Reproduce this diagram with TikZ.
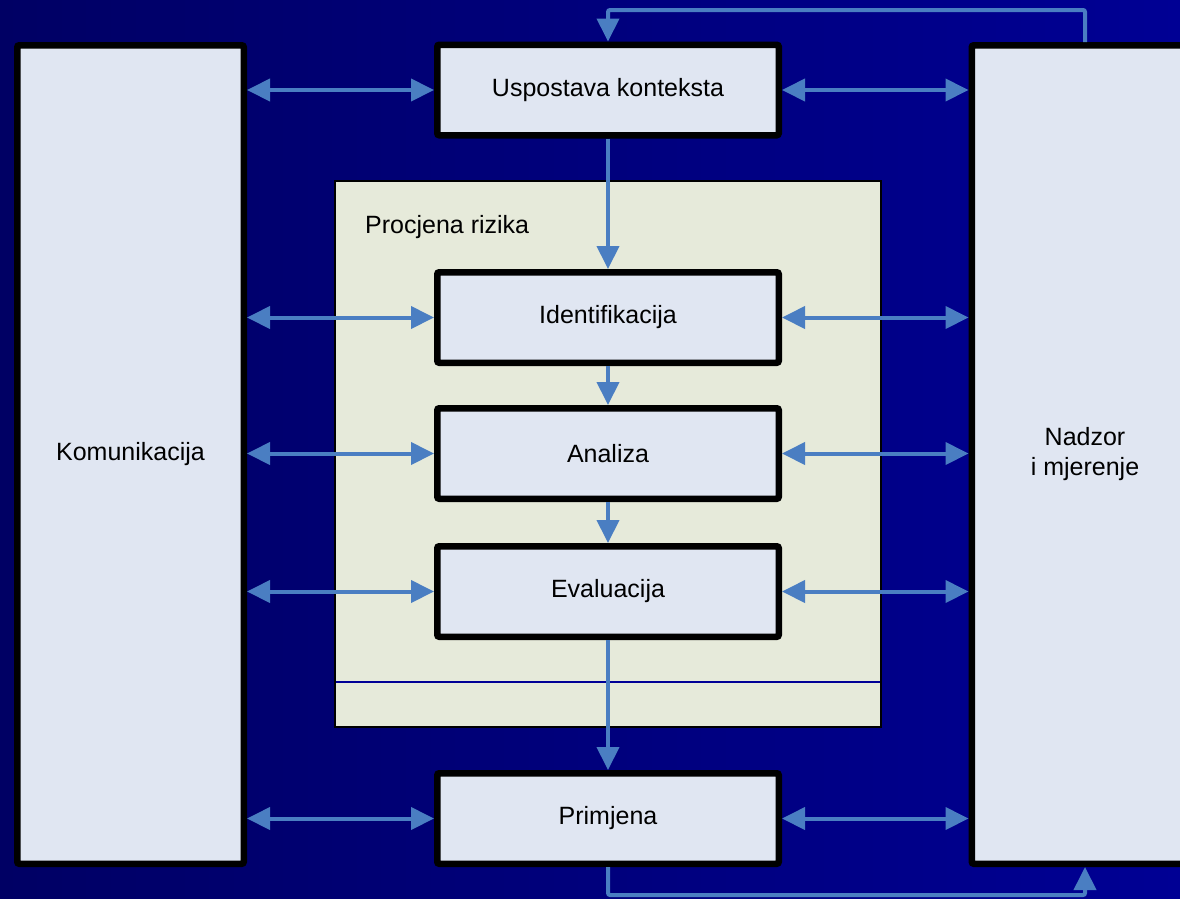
\documentclass[tikz,border=0pt]{standalone}
\usepackage{fontspec}
\setmainfont{Liberation Sans}
\usetikzlibrary{arrows.meta}
\definecolor{bgL}{RGB}{0,0,100}
\definecolor{bgR}{RGB}{0,0,148}
\definecolor{boxfill}{RGB}{224,230,242}
\definecolor{procfill}{RGB}{230,234,218}
\definecolor{arrblue}{RGB}{74,126,194}
\definecolor{thinblue}{RGB}{0,0,150}
\begin{document}
\begin{tikzpicture}[x=1pt,y=-1pt,
  stepbox/.style={draw=black, fill=boxfill, line width=6.5pt, rounded corners=2pt,
    inner sep=0pt, font=\fontsize{25}{30}\selectfont, align=center},
  smallbox/.style={stepbox, minimum width=341.5pt, minimum height=90.5pt},
  tallbox/.style={stepbox, minimum width=226.5pt, minimum height=818.5pt},
  arr/.style={draw=arrblue, line width=4pt, -{Triangle[length=23pt,width=22pt]}},
  darr/.style={draw=arrblue, line width=4pt, {Triangle[length=23pt,width=22pt]}-{Triangle[length=23pt,width=22pt]}},
  lbl/.style={font=\fontsize{25}{30}\selectfont, inner sep=0pt}
]
\useasboundingbox (0,0) rectangle (1180,898);
\shade[left color=bgL, right color=bgR] (0,0) rectangle (1180,898);

% Procjena rizika container
\draw[draw=black, fill=procfill, line width=2pt] (335,181) rectangle (881,727);
\draw[draw=thinblue, line width=1.5pt] (336,682) -- (880,682);
\node[lbl, anchor=base west] (proc) at (365,233) {Procjena rizika};

% tall side boxes
\node[tallbox] (kom) at (130.5,454.5) {Komunikacija};
\node[tallbox] (nad) at (1085,454.5) {Nadzor\\i mjerenje};

% step boxes
\node[smallbox] (usp) at (608,90) {Uspostava konteksta};
\node[smallbox] (ide) at (608,317.5) {Identifikacija};
\node[smallbox] (ana) at (608,453.5) {Analiza};
\node[smallbox] (eva) at (608,591.5) {Evaluacija};
\node[smallbox] (pri) at (608,818.5) {Primjena};

% vertical flow
\draw[arr] (usp.south) -- (ide.north);
\draw[arr] (ide.south) -- (ana.north);
\draw[arr] (ana.south) -- (eva.north);
\draw[arr] (eva.south) -- (pri.north);

% horizontal links
\foreach \n in {usp,ide,ana,eva,pri}{
  \draw[darr] (kom.east |- \n.west) -- (\n.west);
  \draw[darr] (\n.east) -- (nad.west |- \n.east);
}

% feedback loops
\coordinate (topR) at (1085,10);
\coordinate (topL) at (608,10);
\coordinate (botL) at (608,895);
\coordinate (botR) at (1085,895);
\draw[arr, rounded corners=2pt] (nad.north) -- (topR) -- (topL) -- (usp.north);
\draw[arr, rounded corners=2pt] (pri.south) -- (botL) -- (botR) -- (nad.south);
\end{tikzpicture}
\end{document}
